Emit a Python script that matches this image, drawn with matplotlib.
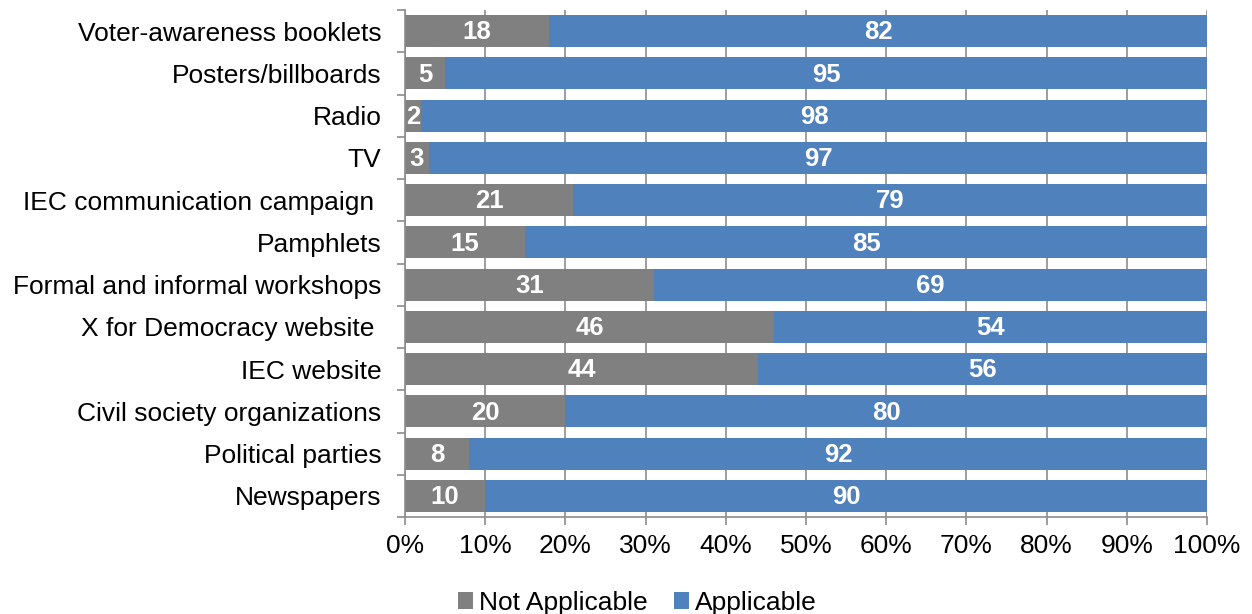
import numpy as np
import matplotlib.pyplot as plt
from matplotlib.ticker import PercentFormatter

plt.rcParams['font.family'] = ['Liberation Sans', 'DejaVu Sans']

channels = ['Voter-awareness booklets', 'Posters/billboards', 'Radio', 'TV',
            'IEC communication campaign ', 'Pamphlets',
            'Formal and informal workshops', 'X for Democracy website ',
            'IEC website', 'Civil society organizations', 'Political parties',
            'Newspapers']
not_applicable = [18, 5, 2, 3, 21, 15, 31, 46, 44, 20, 8, 10]
applicable = [82, 95, 98, 97, 79, 85, 69, 54, 56, 80, 92, 90]

grey = '#808080'
blue = '#4F81BD'
line = '#8C8C8C'

fig = plt.figure(figsize=(12.52, 6.14), dpi=100)
ax = fig.add_axes([405/1252, 1-517/614, 802/1252, 507/614])

y = np.arange(len(channels))[::-1]
b1 = ax.barh(y, not_applicable, height=0.76, color=grey, label='Not Applicable', zorder=2)
b2 = ax.barh(y, applicable, left=not_applicable, height=0.76, color=blue, label='Applicable', zorder=2)

for bars, vals in ((b1, not_applicable), (b2, applicable)):
    for r, v in zip(bars, vals):
        ax.text(r.get_x() + r.get_width()/2, r.get_y() + r.get_height()/2 - 0.03, str(v),
                ha='center', va='center', color='white', fontsize=18.5, fontweight='bold', zorder=3)

ax.set_xlim(0, 100)
ax.set_ylim(-0.5, len(channels) - 0.5)
ax.set_xticks(np.arange(0, 101, 10))
ax.xaxis.set_major_formatter(PercentFormatter(decimals=0))
ax.grid(axis='x', color=line, linewidth=1.2, zorder=0)

# category labels centred, tick marks on the boundaries
ax.set_yticks(y)
ax.set_yticklabels(channels)
ax.set_yticks(np.arange(-0.5, len(channels)), minor=True)
ax.tick_params(axis='y', which='major', length=0, labelsize=19, pad=17)
ax.tick_params(axis='y', which='minor', length=6, color=line, width=1.2)
ax.tick_params(axis='x', length=6, color=line, width=1.2, labelsize=19, pad=6)

for s in ('top', 'right'):
    ax.spines[s].set_visible(False)
for s in ('left', 'bottom'):
    ax.spines[s].set_color(line)
    ax.spines[s].set_linewidth(1.2)

fig.legend(handles=[b1, b2], loc='center', bbox_to_anchor=(637/1252, 1-603/614),
           ncol=2, frameon=False, fontsize=19, handlelength=0.6, handleheight=0.6,
           handletextpad=0.2, columnspacing=1.0)

fig.savefig('out.png', dpi=100)
